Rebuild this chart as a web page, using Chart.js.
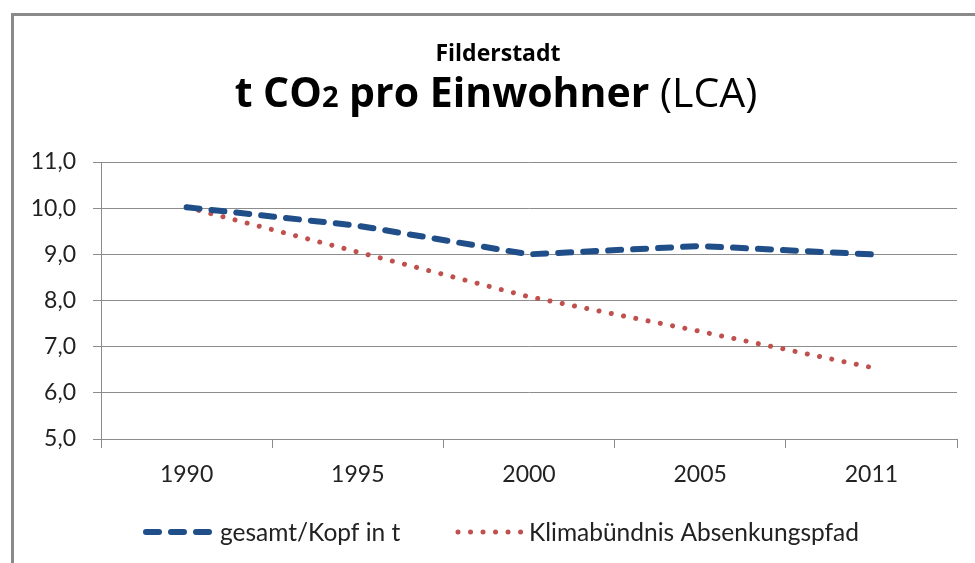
<!DOCTYPE html>
<html>
<head>
<meta charset="utf-8">
<script src="https://cdn.jsdelivr.net/npm/chart.js@4/dist/chart.umd.min.js"></script>
<style>
  html, body { margin: 0; padding: 0; background: #fff; }
  #wrap { width: 975px; height: 563px; position: relative; }
</style>
</head>
<body>
<div id="wrap"><canvas id="co2-chart" width="975" height="563"></canvas></div>
<script>
const years = ['1990', '1995', '2000', '2005', '2011'];
const gesamtProKopf = [10.02, 9.62, 9.0, 9.18, 9.0];
const klimaPfad = [10.02, 9.05, 8.08, 7.33, 6.55];
const seriesNames = ['gesamt/Kopf in t', 'Klimabündnis Absenkungspfad'];

const subtitle = 'Filderstadt';
const titleMain = ['t CO', '2', ' pro Einwohner', ' (LCA)'];

const FONT = 'Lato, "Open Sans", sans-serif';
const TITLE_FONT = '"Open Sans", Lato, sans-serif';
const BLUE = '#1f4e89';
const RED = '#c0504d';
const GRID = '#8c8c8c';
const TEXT = '#222';

function fmt(v) {
  return v.toFixed(1).replace('.', ',');
}

// titles, legend and frame drawn on top of the chart
const decorations = {
  id: 'decorations',
  afterDraw(chart) {
    const ctx = chart.ctx;
    ctx.save();

    // outer frame (only top/left visible in the reference)
    ctx.strokeStyle = '#8a8a8a';
    ctx.lineWidth = 3;
    ctx.strokeRect(12.5, 14.5, 1000, 600);

    ctx.fillStyle = '#000';
    ctx.textBaseline = 'alphabetic';

    // small title
    ctx.font = 'bold 23px ' + TITLE_FONT;
    ctx.textAlign = 'center';
    ctx.fillText(subtitle, 498, 61);

    // main title, mixed weights
    const parts = [
      { t: titleMain[0], f: 'bold 41px ' + TITLE_FONT },
      { t: titleMain[1], f: 'bold 29px ' + TITLE_FONT },
      { t: titleMain[2], f: 'bold 41px ' + TITLE_FONT },
      { t: titleMain[3], f: '41px ' + TITLE_FONT }
    ];
    let total = 0;
    parts.forEach(p => { ctx.font = p.f; p.w = ctx.measureText(p.t).width; total += p.w; });
    let x = 496 - total / 2;
    ctx.textAlign = 'left';
    parts.forEach(p => {
      ctx.font = p.f;
      ctx.fillText(p.t, x, 107);
      x += p.w;
    });

    // legend
    const ly = 532;
    const items = [
      { ds: chart.data.datasets[0], x0: 146, x1: 210, tx: 220 },
      { ds: chart.data.datasets[1], x0: 458, x1: 524, tx: 529 }
    ];
    items.forEach(it => {
      ctx.strokeStyle = it.ds.borderColor;
      ctx.lineWidth = it.ds.borderWidth;
      ctx.lineCap = 'round';
      ctx.setLineDash(it.ds.borderDash);
      ctx.beginPath();
      ctx.moveTo(it.x0, ly);
      ctx.lineTo(it.x1, ly);
      ctx.stroke();
      ctx.setLineDash([]);
      ctx.fillStyle = TEXT;
      ctx.font = '24.5px ' + FONT;
      ctx.textBaseline = 'alphabetic';
      ctx.fillText(it.ds.label, it.tx, 541);
    });

    ctx.restore();
  }
};

new Chart(document.getElementById('co2-chart'), {
  type: 'line',
  data: {
    labels: years,
    datasets: [
      {
        label: seriesNames[0],
        data: gesamtProKopf,
        borderColor: BLUE,
        borderWidth: 6,
        borderDash: [13, 12],
        borderCapStyle: 'round',
        pointRadius: 0,
        tension: 0,
        fill: false
      },
      {
        label: seriesNames[1],
        data: klimaPfad,
        borderColor: RED,
        borderWidth: 5,
        borderDash: [0.01, 12.5],
        borderCapStyle: 'round',
        pointRadius: 0,
        tension: 0,
        fill: false
      }
    ]
  },
  options: {
    responsive: false,
    animation: false,
    layout: { padding: { top: 162, right: 18, left: 0, bottom: 0 } },
    plugins: {
      legend: { display: false },
      title: { display: false },
      tooltip: { enabled: false }
    },
    scales: {
      x: {
        offset: true,
        afterFit(scale) { scale.height = 124; },
        grid: {
          offset: true,
          drawOnChartArea: false,
          drawTicks: true,
          tickLength: 9,
          color: GRID
        },
        border: { color: GRID, width: 1 },
        ticks: {
          color: TEXT,
          font: { family: FONT, size: 23 },
          padding: 13,
          maxRotation: 0
        }
      },
      y: {
        min: 5,
        max: 11,
        afterFit(scale) { scale.width = 101; },
        grid: {
          color: GRID,
          tickLength: 8
        },
        border: { color: GRID, width: 1 },
        ticks: {
          stepSize: 1,
          color: TEXT,
          font: { family: FONT, size: 23 },
          padding: 17,
          callback: v => fmt(v)
        }
      }
    }
  },
  plugins: [decorations]
});
</script>
</body>
</html>
